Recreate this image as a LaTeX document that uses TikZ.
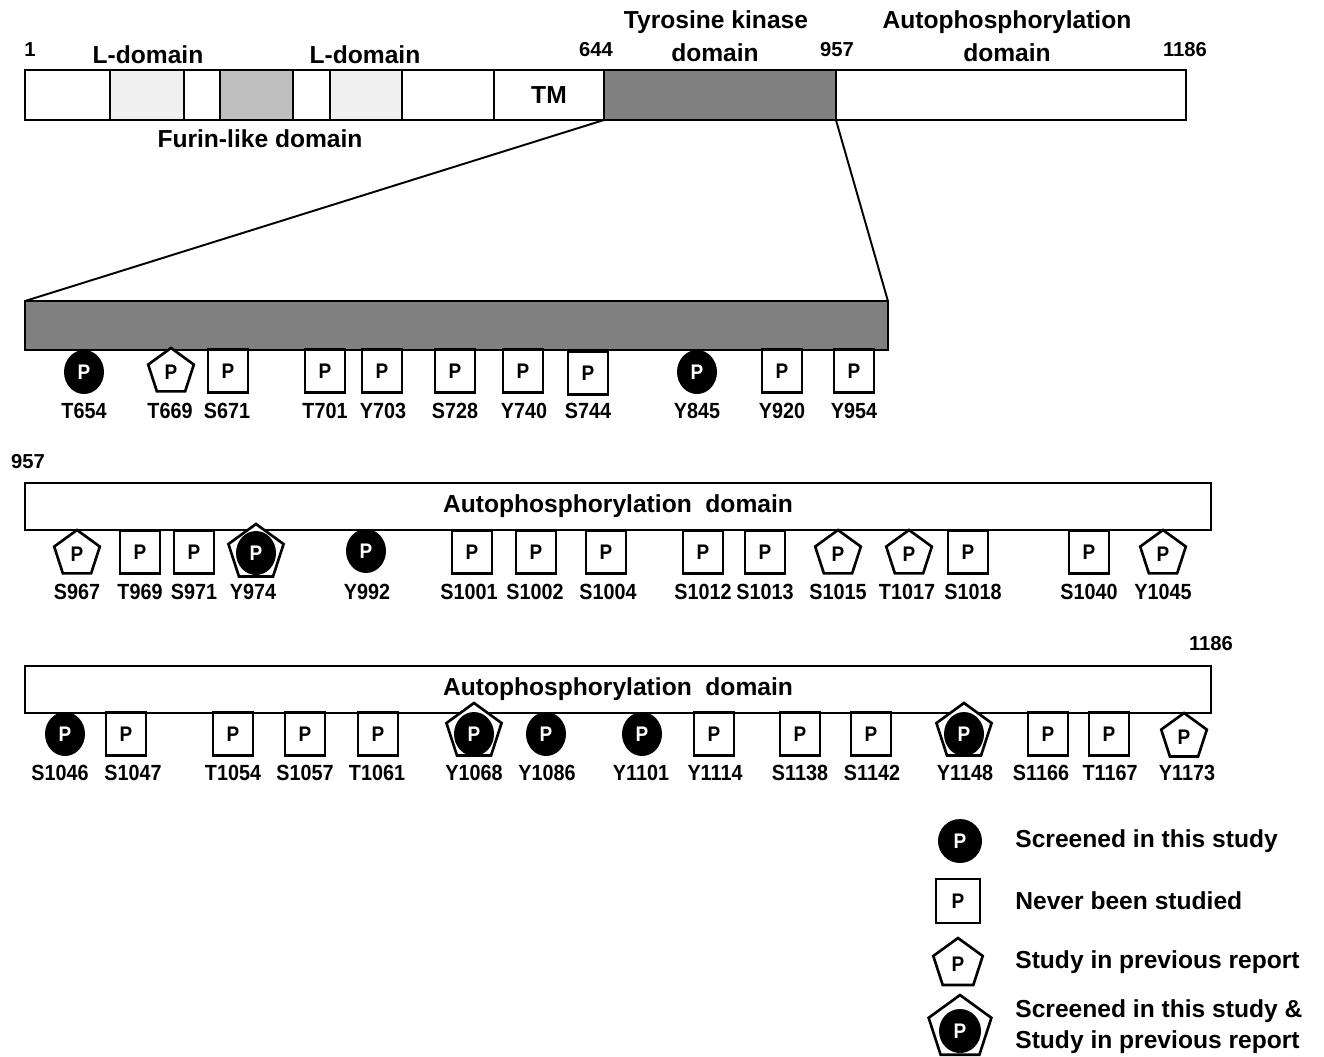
\documentclass[tikz,border=0pt]{standalone}
\usepackage{fontspec}
\setmainfont{Liberation Sans}
\newfontfamily\narrowfont[FakeStretch=0.9]{Liberation Sans}
\usepackage{tikz}
\usetikzlibrary{shapes.geometric}
\definecolor{lightseg}{HTML}{F0F0F0}
\definecolor{midseg}{HTML}{BFBFBF}
\definecolor{kinase}{HTML}{808080}

\begin{document}
\begin{tikzpicture}
  [x=0.02cm,y=-0.02cm,every node/.style={font=\bfseries},
   seg/.style={draw=black, line width=1.5pt, minimum height=10mm, inner sep=0, outer sep=0, anchor=west},
   bar/.style={draw=black, line width=1.5pt, inner sep=0, outer sep=0, font=\fontsize{14}{16}\selectfont\bfseries},
   head/.style={font=\fontsize{14}{16}\selectfont\bfseries, inner sep=0},
   num/.style={font=\fontsize{11.5}{13}\selectfont\bfseries, inner sep=0},
   res/.style={font=\narrowfont\fontsize{12.5}{14}\selectfont\bfseries, inner sep=0},
   scr/.style={ellipse, fill=black, text=white, minimum width=8mm, minimum height=8.8mm, inner sep=0, font=\narrowfont\fontsize{12}{13}\selectfont\bfseries},
   nev/.style={rectangle, draw=black, line width=1.5pt, fill=white, minimum width=8mm, minimum height=8.6mm, inner sep=0, font=\narrowfont\fontsize{12}{13}\selectfont\bfseries},
   prev/.style={regular polygon, regular polygon sides=5, draw=black, line width=1.5pt, fill=white, minimum size=9.6mm, inner sep=0, font=\narrowfont\fontsize{12}{13}\selectfont\bfseries},
   both/.style={prev, minimum size=11.6mm}]
  \useasboundingbox (0,0) rectangle (1324,1056);

  % full length receptor
  \node [seg, fill=white, minimum width=17mm] (s1) at (25,95) {};
  \node [seg, fill=lightseg, minimum width=14.8mm] (s2) at (110,95) {};
  \node [seg, fill=white, minimum width=7.2mm] (s3) at (184,95) {};
  \node [seg, fill=midseg, minimum width=14.6mm] (s4) at (220,95) {};
  \node [seg, fill=white, minimum width=7.4mm] (s5) at (293,95) {};
  \node [seg, fill=lightseg, minimum width=14.4mm] (s6) at (330,95) {};
  \node [seg, fill=white, minimum width=18.4mm] (s7) at (402,95) {};
  \node [seg, fill=white, minimum width=22mm, font=\fontsize{14}{16}\selectfont\bfseries] (tm) at (494,95) {TM};
  \node [seg, fill=kinase, minimum width=46.4mm] (tk) at (604,95) {};
  \node [seg, fill=white, minimum width=70mm] (auto) at (836,95) {};

  \node [num] (n1) at (30,50) {1};
  \node [head] (ld1) at (148,55) {L-domain};
  \node [head] (ld2) at (365,55) {L-domain};
  \node [num] (n644) at (596,50) {644};
  \node [head] (tkh1) at (716,22) {Tyrosine kinase};
  \node [head] (tkh2) at (715,53) {domain};
  \node [num] (n957) at (837,50) {957};
  \node [head] (aph1) at (1007,22) {Autophosphorylation};
  \node [head] (aph2) at (1007,53) {domain};
  \node [num] (n1186) at (1185,50) {1186};
  \node [head] (furin) at (260,139) {Furin-like domain};

  % kinase domain, enlarged
  \node [bar, fill=kinase, minimum width=172.6mm, minimum height=9.8mm] (tkz) at (456.5,325.5) {};

  \path [-] [line width=1.1pt]
  (tk.south west) edge (tkz.north west)
  (tk.south east) edge (tkz.north east);

  \node [scr] (t654) at (84,372) {P};
  \node [prev] (t669) at (171,372) {P};
  \node [nev] (s671) at (228,371) {P};
  \node [nev] (t701) at (325,371) {P};
  \node [nev] (y703) at (382,371) {P};
  \node [nev] (s728) at (455,371) {P};
  \node [nev] (y740) at (523,371) {P};
  \node [nev] (s744) at (588,373) {P};
  \node [scr] (y845) at (697,372) {P};
  \node [nev] (y920) at (782,371) {P};
  \node [nev] (y954) at (854,371) {P};

  \node [res] (t654l) at (84,411) {T654};
  \node [res] (t669l) at (170,411) {T669};
  \node [res] (s671l) at (227,411) {S671};
  \node [res] (t701l) at (325,411) {T701};
  \node [res] (y703l) at (383,411) {Y703};
  \node [res] (s728l) at (455,411) {S728};
  \node [res] (y740l) at (524,411) {Y740};
  \node [res] (s744l) at (588,411) {S744};
  \node [res] (y845l) at (697,411) {Y845};
  \node [res] (y920l) at (782,411) {Y920};
  \node [res] (y954l) at (854,411) {Y954};

  % autophosphorylation domain, first half
  \node [num] (n957b) at (28,462) {957};
  \node [bar, fill=white, minimum width=237.2mm, minimum height=9.4mm] (apd1) at (618,506.5) {Autophosphorylation\ \ domain};

  \node [prev] (s967) at (77,554) {P};
  \node [nev] (t969) at (140,552) {P};
  \node [nev] (s971) at (194,552) {P};
  \node [both] (y974p) at (256,553) {};
  \node [scr] (y974) at (256,553) {P};
  \node [scr] (y992) at (366,551) {P};
  \node [nev] (s1001) at (472,552) {P};
  \node [nev] (s1002) at (536,552) {P};
  \node [nev] (s1004) at (606,552) {P};
  \node [nev] (s1012) at (703,552) {P};
  \node [nev] (s1013) at (765,552) {P};
  \node [prev] (s1015) at (838,554) {P};
  \node [prev] (t1017) at (909,554) {P};
  \node [nev] (s1018) at (968,552) {P};
  \node [nev] (s1040) at (1089,552) {P};
  \node [prev] (y1045) at (1163,554) {P};

  \node [res] (s967l) at (77,592) {S967};
  \node [res] (t969l) at (140,592) {T969};
  \node [res] (s971l) at (194,592) {S971};
  \node [res] (y974l) at (253,592) {Y974};
  \node [res] (y992l) at (367,592) {Y992};
  \node [res] (s1001l) at (469,592) {S1001};
  \node [res] (s1002l) at (535,592) {S1002};
  \node [res] (s1004l) at (608,592) {S1004};
  \node [res] (s1012l) at (703,592) {S1012};
  \node [res] (s1013l) at (765,592) {S1013};
  \node [res] (s1015l) at (838,592) {S1015};
  \node [res] (t1017l) at (907,592) {T1017};
  \node [res] (s1018l) at (973,592) {S1018};
  \node [res] (s1040l) at (1089,592) {S1040};
  \node [res] (y1045l) at (1163,592) {Y1045};

  % autophosphorylation domain, second half
  \node [num] (n1186b) at (1211,644) {1186};
  \node [bar, fill=white, minimum width=237.2mm, minimum height=9.4mm] (apd2) at (618,689.5) {Autophosphorylation\ \ domain};

  \node [scr] (s1046) at (65,734) {P};
  \node [nev] (s1047) at (126,734) {P};
  \node [nev] (t1054) at (233,734) {P};
  \node [nev] (s1057) at (305,734) {P};
  \node [nev] (t1061) at (378,734) {P};
  \node [both] (y1068p) at (474,732) {};
  \node [scr] (y1068) at (474,734) {P};
  \node [scr] (y1086) at (546,734) {P};
  \node [scr] (y1101) at (642,734) {P};
  \node [nev] (y1114) at (714,734) {P};
  \node [nev] (s1138) at (800,734) {P};
  \node [nev] (s1142) at (871,734) {P};
  \node [both] (y1148p) at (964,732) {};
  \node [scr] (y1148) at (964,734) {P};
  \node [nev] (s1166) at (1048,734) {P};
  \node [nev] (t1167) at (1109,734) {P};
  \node [prev] (y1173) at (1184,737) {P};

  \node [res] (s1046l) at (60,773) {S1046};
  \node [res] (s1047l) at (133,773) {S1047};
  \node [res] (t1054l) at (233,773) {T1054};
  \node [res] (s1057l) at (305,773) {S1057};
  \node [res] (t1061l) at (377,773) {T1061};
  \node [res] (y1068l) at (474,773) {Y1068};
  \node [res] (y1086l) at (547,773) {Y1086};
  \node [res] (y1101l) at (641,773) {Y1101};
  \node [res] (y1114l) at (715,773) {Y1114};
  \node [res] (s1138l) at (800,773) {S1138};
  \node [res] (s1142l) at (872,773) {S1142};
  \node [res] (y1148l) at (965,773) {Y1148};
  \node [res] (s1166l) at (1041,773) {S1166};
  \node [res] (t1167l) at (1110,773) {T1167};
  \node [res] (y1173l) at (1187,773) {Y1173};

  % legend
  \node [scr, minimum width=8.8mm] (lscr) at (960,841) {P};
  \node [nev, minimum width=8.8mm, minimum height=8.8mm] (lnev) at (958,901) {P};
  \node [prev, minimum size=10.4mm] (lprev) at (958,964) {P};
  \node [both, minimum size=13.2mm] (lbothp) at (960,1028) {};
  \node [scr, minimum width=8.4mm] (lboth) at (960,1031) {P};

  \node [head, anchor=west] (lscrt) at (1015,841) {Screened in this study};
  \node [head, anchor=west] (lnevt) at (1015,901) {Never been studied};
  \node [head, anchor=west] (lprevt) at (1015,962) {Study in previous report};
  \node [head, anchor=west] (lboth1) at (1015,1011) {Screened in this study \&};
  \node [head, anchor=west] (lboth2) at (1015,1042) {Study in previous report};

\end{tikzpicture}
\end{document}
